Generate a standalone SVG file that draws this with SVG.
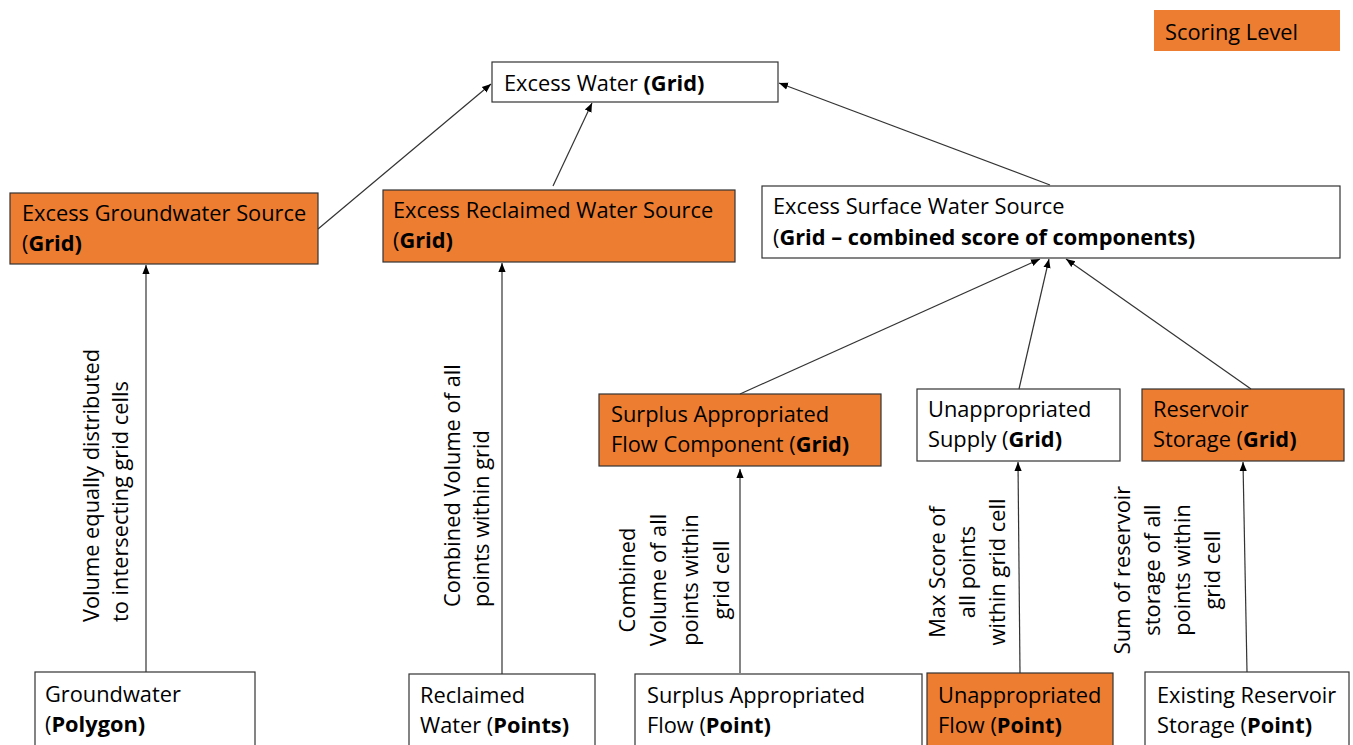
<svg xmlns="http://www.w3.org/2000/svg" width="1353" height="745" viewBox="0 0 1353 745">
<defs>
<marker id="ah" viewBox="0 0 10 10" refX="10" refY="5" markerWidth="9" markerHeight="9" markerUnits="userSpaceOnUse" orient="auto">
<path d="M0,1 L10,5 L0,9 z" fill="#000"/>
</marker>
<style>
text{font-family:"Open Sans","Noto Sans","DejaVu Sans",sans-serif;font-size:21.8px;fill:#000}
.b{font-weight:bold}
.w{fill:#fff;stroke:#333;stroke-width:1.2}
.o{fill:#ED7D31;stroke:#333;stroke-width:1.2}
.c line{stroke:#333;stroke-width:1.2;marker-end:url(#ah)}
.m{text-anchor:middle}
</style>
</defs>
<rect width="1353" height="745" fill="#fff"/>

<g id="legend"><rect x="1154" y="10" width="186" height="41" fill="#ED7D31"/><text x="1165" y="40">Scoring Level</text></g>

<g id="excess-water"><rect class="w" x="492" y="62" width="286" height="40"/><text x="504" y="91">Excess Water <tspan class="b">(Grid)</tspan></text></g>

<g id="gw-source"><rect class="o" x="10" y="193" width="308" height="71"/><text x="22" y="221">Excess Groundwater Source</text><text x="22" y="251">(<tspan class="b">Grid)</tspan></text></g>

<g id="rw-source"><rect class="o" x="383" y="190" width="352" height="72"/><text x="393" y="218">Excess Reclaimed Water Source</text><text x="393" y="248">(<tspan class="b">Grid)</tspan></text></g>

<g id="sw-source"><rect class="w" x="762" y="186" width="578" height="72"/><text x="773" y="214">Excess Surface Water Source</text><text x="773" y="245">(<tspan class="b">Grid – combined score of components)</tspan></text></g>

<g id="surplus-comp"><rect class="o" x="599" y="394" width="282" height="72"/><text x="611" y="422">Surplus Appropriated</text><text x="611" y="452">Flow Component (<tspan class="b">Grid)</tspan></text></g>

<g id="unapp-supply"><rect class="w" x="917" y="389" width="203" height="72"/><text x="928" y="417">Unappropriated</text><text x="928" y="447">Supply (<tspan class="b">Grid)</tspan></text></g>

<g id="res-storage"><rect class="o" x="1142" y="389" width="202" height="72"/><text x="1153" y="417">Reservoir</text><text x="1153" y="447">Storage (<tspan class="b">Grid)</tspan></text></g>

<g id="groundwater"><rect class="w" x="35" y="672" width="220" height="80"/><text x="45" y="702">Groundwater</text><text x="45" y="732">(<tspan class="b">Polygon)</tspan></text></g>

<g id="reclaimed"><rect class="w" x="409" y="674" width="186" height="80"/><text x="420" y="703">Reclaimed</text><text x="420" y="733">Water (<tspan class="b">Points)</tspan></text></g>

<g id="surplus-flow"><rect class="w" x="635" y="674" width="287" height="80"/><text x="647" y="703">Surplus Appropriated</text><text x="647" y="733">Flow (<tspan class="b">Point)</tspan></text></g>

<g id="unapp-flow"><rect class="o" x="927" y="673" width="186" height="80"/><text x="938" y="703">Unappropriated</text><text x="938" y="733">Flow (<tspan class="b">Point)</tspan></text></g>

<g id="existing-res"><rect class="w" x="1145" y="672" width="204" height="80"/><text x="1157" y="703">Existing Reservoir</text><text x="1157" y="733">Storage (<tspan class="b">Point)</tspan></text></g>

<g id="connectors" class="c">
<line x1="318" y1="229" x2="491" y2="84"/>
<line x1="553" y1="186" x2="592" y2="103"/>
<line x1="1050" y1="185" x2="779" y2="83"/>
<line x1="146" y1="672" x2="146" y2="265"/>
<line x1="502" y1="674" x2="502" y2="263"/>
<line x1="740" y1="673" x2="740" y2="469"/>
<line x1="1020" y1="673" x2="1018" y2="462"/>
<line x1="1247" y1="672" x2="1243" y2="462"/>
<line x1="740" y1="394" x2="1040" y2="259"/>
<line x1="1019" y1="389" x2="1049" y2="259"/>
<line x1="1251" y1="389" x2="1066" y2="259"/>
</g>

<g id="edge-labels">
<text transform="translate(99,622) rotate(-90)">Volume equally distributed</text>
<text transform="translate(128,622) rotate(-90)">to intersecting grid cells</text>
<text transform="translate(460,607) rotate(-90)">Combined Volume of all</text>
<text transform="translate(489,607) rotate(-90)">points within grid</text>
<text class="m" transform="translate(635,580) rotate(-90)">Combined</text>
<text class="m" transform="translate(666,580) rotate(-90)">Volume of all</text>
<text class="m" transform="translate(698,580) rotate(-90)">points within</text>
<text class="m" transform="translate(729,580) rotate(-90)">grid cell</text>
<text class="m" transform="translate(945,572) rotate(-90)">Max Score of</text>
<text class="m" transform="translate(975,572) rotate(-90)">all points</text>
<text class="m" transform="translate(1005,572) rotate(-90)">within grid cell</text>
<text class="m" transform="translate(1130,570) rotate(-90)">Sum of reservoir</text>
<text class="m" transform="translate(1160,570) rotate(-90)">storage of all</text>
<text class="m" transform="translate(1190,570) rotate(-90)">points within</text>
<text class="m" transform="translate(1220,570) rotate(-90)">grid cell</text>
</g>
</svg>
